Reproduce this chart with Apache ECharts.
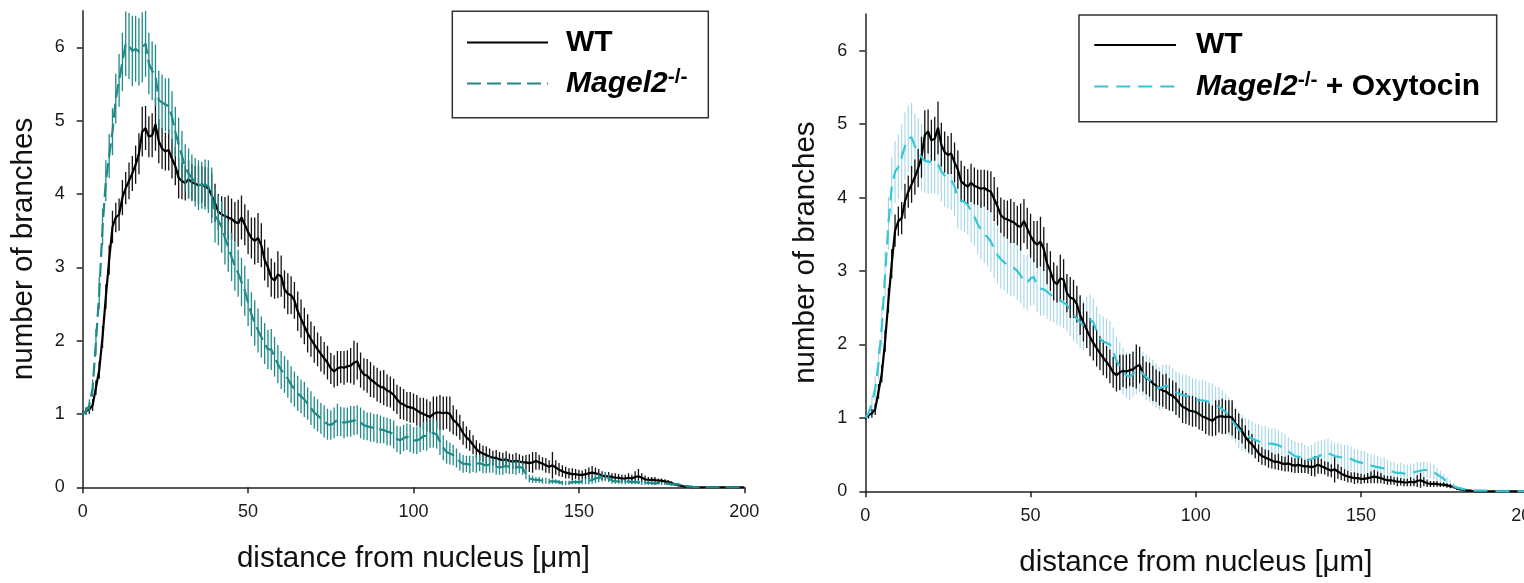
<!DOCTYPE html>
<html>
<head>
<meta charset="utf-8">
<script src="https://cdn.jsdelivr.net/npm/echarts@6/dist/echarts.min.js"></script>
<style>
html,body{margin:0;padding:0;background:#fff;}
#chart{width:1524px;height:583px;}
</style>
</head>
<body>
<div id="chart"></div>
<script>
// distance from nucleus (µm), 1 µm sampling grid
const distance = [];
for (let i = 0; i <= 200; i++) distance.push(i);

const xTicks = [0, 50, 100, 150, 200];
const yTicks = [0, 1, 2, 3, 4, 5, 6];

// WT mean number of branches
const wtMean = [
1.00,1.04,1.06,1.12,1.36,1.60,2.05,2.60,3.10,3.55,
3.68,3.72,3.95,4.08,4.18,4.28,4.40,4.55,4.85,4.90,
4.78,4.80,4.95,4.72,4.62,4.58,4.60,4.48,4.38,4.22,
4.18,4.15,4.20,4.16,4.14,4.12,4.13,4.10,4.08,3.98,
3.88,3.76,3.72,3.70,3.68,3.66,3.62,3.60,3.68,3.58,
3.48,3.40,3.36,3.40,3.30,3.10,3.00,2.86,2.82,2.90,
2.88,2.70,2.64,2.62,2.55,2.40,2.30,2.20,2.10,2.02,
1.95,1.88,1.82,1.76,1.70,1.62,1.58,1.62,1.64,1.63,
1.65,1.66,1.70,1.72,1.60,1.54,1.52,1.47,1.44,1.40,
1.37,1.36,1.32,1.30,1.26,1.20,1.15,1.13,1.10,1.09,
1.08,1.05,1.02,1.00,0.98,0.96,1.00,1.02,1.02,1.01,
1.02,1.00,0.92,0.88,0.82,0.74,0.68,0.64,0.58,0.52,
0.48,0.46,0.44,0.42,0.40,0.40,0.38,0.37,0.38,0.36,
0.35,0.36,0.35,0.34,0.34,0.33,0.34,0.36,0.34,0.32,
0.30,0.28,0.30,0.27,0.24,0.22,0.20,0.19,0.18,0.18,
0.17,0.17,0.18,0.19,0.20,0.19,0.18,0.16,0.15,0.15,
0.14,0.13,0.13,0.12,0.12,0.13,0.12,0.14,0.15,0.13,
0.11,0.10,0.10,0.10,0.09,0.09,0.08,0.07,0.06,0.04,
0.03,0.02,0.01,0.01,0,0,0,0,0,0,
0,0,0,0,0,0,0,0,0,0,
0];
const wtErr = [
0.03,0.05,0.06,0.08,0.10,0.12,0.15,0.17,0.20,0.22,
0.20,0.22,0.24,0.22,0.25,0.24,0.26,0.28,0.34,0.30,
0.28,0.30,0.36,0.30,0.28,0.26,0.28,0.27,0.26,0.28,
0.25,0.24,0.26,0.25,0.24,0.26,0.25,0.27,0.28,0.30,
0.26,0.24,0.25,0.26,0.30,0.28,0.27,0.32,0.30,0.28,
0.30,0.28,0.32,0.34,0.30,0.28,0.27,0.26,0.25,0.32,
0.28,0.26,0.28,0.26,0.25,0.27,0.26,0.25,0.26,0.24,
0.25,0.23,0.24,0.22,0.23,0.21,0.22,0.24,0.22,0.23,
0.22,0.24,0.30,0.25,0.24,0.22,0.23,0.24,0.22,0.23,
0.22,0.24,0.22,0.21,0.22,0.20,0.22,0.21,0.20,0.21,
0.20,0.21,0.20,0.22,0.22,0.21,0.24,0.22,0.24,0.23,
0.22,0.24,0.20,0.18,0.17,0.16,0.15,0.14,0.13,0.12,
0.12,0.11,0.12,0.11,0.10,0.11,0.10,0.10,0.11,0.10,
0.10,0.11,0.10,0.09,0.10,0.12,0.14,0.12,0.10,0.09,
0.10,0.09,0.18,0.10,0.09,0.08,0.08,0.07,0.08,0.07,
0.07,0.06,0.07,0.08,0.09,0.08,0.07,0.06,0.06,0.06,
0.05,0.06,0.05,0.05,0.05,0.06,0.05,0.08,0.10,0.06,
0.05,0.04,0.04,0.04,0.03,0.03,0.03,0.03,0.02,0.02,
0.02,0.01,0.01,0.01,0,0,0,0,0,0,
0,0,0,0,0,0,0,0,0,0,
0];

// Magel2-/- mean number of branches
const magelMean = [
1.00,1.04,1.12,1.35,1.98,2.65,3.55,4.18,4.52,4.85,
5.30,5.55,5.80,6.05,6.02,5.95,5.98,5.94,6.00,6.05,
5.78,5.68,5.62,5.28,5.25,5.22,5.20,5.05,4.85,4.68,
4.52,4.36,4.28,4.22,4.16,4.12,4.12,4.13,4.10,3.98,
3.70,3.64,3.55,3.40,3.28,3.14,3.02,2.92,2.80,2.68,
2.52,2.36,2.24,2.14,2.05,1.96,1.88,1.88,1.78,1.68,
1.60,1.54,1.48,1.40,1.34,1.28,1.24,1.20,1.14,1.08,
1.02,0.98,0.94,0.90,0.86,0.85,0.88,0.92,0.90,0.88,
0.89,0.90,0.91,0.92,0.88,0.85,0.83,0.82,0.81,0.80,
0.79,0.78,0.76,0.75,0.72,0.66,0.64,0.67,0.69,0.67,
0.64,0.64,0.66,0.70,0.70,0.73,0.74,0.72,0.62,0.54,
0.48,0.46,0.44,0.40,0.35,0.32,0.32,0.31,0.32,0.32,
0.33,0.31,0.30,0.31,0.30,0.28,0.27,0.28,0.29,0.28,
0.28,0.27,0.28,0.26,0.18,0.12,0.11,0.10,0.10,0.09,
0.09,0.08,0.08,0.08,0.07,0.06,0.06,0.06,0.07,0.07,
0.07,0.08,0.08,0.09,0.10,0.12,0.13,0.14,0.15,0.12,
0.09,0.08,0.08,0.07,0.07,0.08,0.07,0.07,0.07,0.06,
0.06,0.06,0.06,0.05,0.06,0.05,0.05,0.05,0.04,0.04,
0.04,0.03,0.02,0.01,0.01,0,0,0,0,0,
0,0,0,0,0,0,0,0,0,0,
0];
const magelErr = [
0.02,0.05,0.08,0.12,0.18,0.22,0.25,0.28,0.30,0.32,
0.34,0.36,0.40,0.44,0.45,0.48,0.45,0.46,0.48,0.45,
0.42,0.40,0.42,0.40,0.38,0.36,0.38,0.35,0.34,0.36,
0.34,0.32,0.34,0.32,0.33,0.34,0.32,0.34,0.36,0.38,
0.36,0.34,0.35,0.36,0.34,0.33,0.34,0.32,0.33,0.34,
0.32,0.30,0.31,0.30,0.28,0.28,0.27,0.28,0.27,0.26,
0.26,0.25,0.26,0.25,0.24,0.24,0.23,0.24,0.22,0.23,
0.22,0.22,0.21,0.22,0.21,0.20,0.21,0.22,0.20,0.21,
0.20,0.21,0.20,0.20,0.21,0.20,0.19,0.20,0.19,0.20,
0.19,0.18,0.19,0.18,0.19,0.18,0.19,0.18,0.18,0.19,
0.18,0.19,0.18,0.19,0.20,0.19,0.20,0.19,0.18,0.17,
0.16,0.15,0.14,0.13,0.12,0.12,0.11,0.12,0.11,0.12,
0.11,0.12,0.11,0.11,0.10,0.11,0.10,0.11,0.10,0.10,
0.10,0.10,0.09,0.09,0.07,0.05,0.05,0.04,0.04,0.04,
0.04,0.04,0.03,0.03,0.03,0.03,0.03,0.03,0.03,0.03,
0.03,0.04,0.04,0.05,0.05,0.06,0.06,0.06,0.06,0.05,
0.04,0.03,0.03,0.03,0.03,0.03,0.03,0.03,0.03,0.03,
0.03,0.03,0.03,0.02,0.02,0.02,0.02,0.02,0.02,0.02,
0.02,0.01,0.01,0.01,0.01,0,0,0,0,0,
0,0,0,0,0,0,0,0,0,0,
0];

// Magel2-/- + Oxytocin mean number of branches
const oxyMean = [
1.00,1.06,1.20,1.40,1.75,2.25,2.95,3.65,4.15,4.35,
4.42,4.55,4.70,4.80,4.82,4.70,4.62,4.55,4.50,4.49,
4.48,4.49,4.45,4.36,4.30,4.25,4.24,4.15,4.00,3.96,
3.94,3.90,3.82,3.74,3.64,3.56,3.50,3.46,3.40,3.30,
3.22,3.16,3.12,3.08,3.06,3.04,3.00,2.94,2.86,2.84,
2.90,2.92,2.80,2.76,2.75,2.72,2.68,2.65,2.62,2.60,
2.57,2.54,2.46,2.40,2.35,2.30,2.26,2.30,2.34,2.30,
2.18,2.08,2.04,2.02,2.00,1.90,1.78,1.70,1.64,1.58,
1.56,1.60,1.64,1.66,1.60,1.55,1.52,1.48,1.44,1.40,
1.42,1.44,1.42,1.38,1.35,1.33,1.31,1.30,1.29,1.27,
1.25,1.24,1.24,1.23,1.22,1.20,1.17,1.15,1.12,1.08,
1.02,0.96,0.90,0.84,0.80,0.77,0.74,0.72,0.70,0.68,
0.67,0.66,0.65,0.65,0.64,0.63,0.60,0.57,0.54,0.51,
0.48,0.47,0.46,0.44,0.43,0.44,0.46,0.47,0.50,0.52,
0.52,0.50,0.48,0.47,0.46,0.46,0.45,0.44,0.42,0.40,
0.39,0.38,0.36,0.35,0.34,0.33,0.32,0.31,0.29,0.28,
0.26,0.25,0.25,0.24,0.24,0.25,0.26,0.27,0.28,0.29,
0.29,0.28,0.26,0.23,0.20,0.17,0.13,0.10,0.07,0.05,
0.04,0.03,0.02,0.02,0.01,0.01,0.01,0.01,0.01,0,
0,0,0,0,0,0,0,0,0,0,
0];
const oxyErr = [
0.03,0.06,0.10,0.16,0.22,0.28,0.32,0.36,0.40,0.42,
0.44,0.45,0.46,0.45,0.47,0.44,0.46,0.45,0.43,0.44,
0.42,0.43,0.42,0.41,0.42,0.40,0.41,0.40,0.42,0.40,
0.41,0.40,0.42,0.40,0.41,0.40,0.39,0.40,0.41,0.40,
0.39,0.40,0.38,0.39,0.40,0.38,0.39,0.38,0.37,0.38,
0.37,0.38,0.36,0.37,0.36,0.37,0.36,0.35,0.36,0.35,
0.35,0.36,0.34,0.35,0.34,0.35,0.34,0.35,0.34,0.33,
0.34,0.33,0.34,0.33,0.32,0.33,0.32,0.33,0.32,0.31,
0.32,0.31,0.32,0.31,0.30,0.31,0.30,0.31,0.30,0.29,
0.30,0.29,0.30,0.29,0.28,0.29,0.28,0.29,0.28,0.27,
0.28,0.27,0.28,0.27,0.26,0.27,0.26,0.27,0.26,0.25,
0.26,0.25,0.24,0.25,0.24,0.23,0.24,0.23,0.22,0.23,
0.22,0.23,0.22,0.21,0.22,0.21,0.20,0.21,0.20,0.19,
0.20,0.19,0.20,0.19,0.18,0.19,0.20,0.21,0.20,0.19,
0.20,0.19,0.18,0.19,0.18,0.17,0.18,0.17,0.16,0.17,
0.16,0.17,0.16,0.15,0.16,0.15,0.14,0.15,0.14,0.13,
0.14,0.13,0.14,0.13,0.12,0.13,0.12,0.13,0.12,0.12,
0.11,0.10,0.10,0.09,0.08,0.07,0.06,0.05,0.04,0.03,
0.02,0.02,0.01,0.01,0.01,0.01,0.01,0.01,0.01,0,
0,0,0,0,0,0,0,0,0,0,
0];

const seriesNames = ['WT', 'Magel2-/-', 'Magel2-/- + Oxytocin'];
const colors = { wt: '#000000', magel: '#1f8a88', oxy: '#35c6d8', oxyBar: '#a3d6e6' };

function linePoints(mean) { return distance.map((d, i) => [d, mean[i]]); }
function barPoints(mean, err) {
  const out = [];
  distance.forEach((d, i) => { if (err[i] > 0) out.push([d, mean[i] - err[i], mean[i] + err[i]]); });
  return out;
}
function errSeries(idx, mean, err, color, width, z) {
  return {
    type: 'custom', xAxisIndex: idx, yAxisIndex: idx, z: z, clip: true, silent: true,
    encode: { x: 0, y: [1, 2] },
    data: barPoints(mean, err),
    renderItem: function (params, api) {
      const a = api.coord([api.value(0), api.value(1)]);
      const b = api.coord([api.value(0), api.value(2)]);
      return { type: 'line', shape: { x1: a[0], y1: a[1], x2: b[0], y2: b[1] },
               style: { stroke: color, lineWidth: width } };
    }
  };
}
function lineSeries(idx, name, mean, color, type, z) {
  return {
    type: 'line', name: name, xAxisIndex: idx, yAxisIndex: idx, z: z,
    symbol: 'none', showSymbol: false, silent: true, animation: false,
    lineStyle: { color: color, width: 2.2, type: type },
    itemStyle: { color: color },
    data: linePoints(mean)
  };
}

const font = "'Liberation Sans', Arial, sans-serif";
function xAxis(idx) {
  return {
    gridIndex: idx, type: 'value', min: 0, max: 200, interval: 50,
    name: 'distance from nucleus [\u03bcm]', nameLocation: 'middle', nameGap: 57,
    nameTextStyle: { fontFamily: font, fontSize: 29.5, color: '#111' },
    axisLine: { onZero: false, lineStyle: { color: '#222', width: 1.5 } },
    axisTick: { length: 6, lineStyle: { color: '#222', width: 1.5 }, customValues: xTicks },
    axisLabel: { fontFamily: font, fontSize: 18, color: '#1a1a1a', margin: 16, customValues: xTicks },
    splitLine: { show: false }
  };
}
function yAxis(idx) {
  return {
    gridIndex: idx, type: 'value', min: 0, max: 6.5, interval: 1,
    name: 'number of branches', nameLocation: 'middle', nameGap: 44,
    nameTextStyle: { fontFamily: font, fontSize: 29.5, color: '#111' },
    axisLine: { show: true, onZero: false, lineStyle: { color: '#222', width: 1.5 } },
    axisTick: { show: true, length: 6, lineStyle: { color: '#222', width: 1.5 }, customValues: yTicks },
    axisLabel: { fontFamily: font, fontSize: 18, color: '#1a1a1a', margin: 18, customValues: yTicks },
    splitLine: { show: false }
  };
}

const rich = {
  g: { width: 13, fontSize: 10 },
  g2: { width: 15, fontSize: 10 },
  b: { fontFamily: font, fontSize: 30, fontWeight: 'bold', color: '#000', lineHeight: 34 },
  i: { fontFamily: font, fontSize: 30, fontWeight: 'bold', fontStyle: 'italic', color: '#000', lineHeight: 34 },
  s: { fontFamily: font, fontSize: 21, fontWeight: 'bold', color: '#000', verticalAlign: 'top', lineHeight: 20 }
};
function legendFmt(gap) {
  return function (name) {
    if (name === seriesNames[0]) return '{' + gap + '| }{b|WT}';
    if (name === seriesNames[1]) return '{' + gap + '| }{i|Magel2}{s|-/-}';
    return '{' + gap + '| }{i|Magel2}{s|-/-}{b| + Oxytocin}';
  };
}

const chart = echarts.init(document.getElementById('chart'), null, { renderer: 'canvas' });
chart.setOption({
  animation: false,
  backgroundColor: '#fff',
  grid: [
    { left: 82.7, right: 779.7, top: 10.7, bottom: 95.7, outerBoundsMode: 'none', containLabel: false },
    { left: 865.3, right: -2.3, top: 14, bottom: 91.7, outerBoundsMode: 'none', containLabel: false }
  ],
  xAxis: [xAxis(0), xAxis(1)],
  yAxis: [yAxis(0), yAxis(1)],
  graphic: [
    { type: 'rect', shape: { x: 452.3, y: 11.3, width: 256, height: 106.4 },
      style: { fill: '#fff', stroke: '#333', lineWidth: 1.5 }, z: 1 },
    { type: 'rect', shape: { x: 1079, y: 15, width: 417.7, height: 106.7 },
      style: { fill: '#fff', stroke: '#333', lineWidth: 1.5 }, z: 1 }
  ],
  legend: [
    { data: [seriesNames[0], seriesNames[1]], orient: 'vertical', left: 466, top: 27.5,
      padding: 0, itemGap: 9, itemWidth: 81, itemHeight: 14, selectedMode: false, z: 10,
      itemStyle: { opacity: 0 },
      formatter: legendFmt('g'), textStyle: { rich: rich } },
    { data: [seriesNames[0], seriesNames[2]], orient: 'vertical', left: 1093.3, top: 30,
      padding: 0, itemGap: 9.4, itemWidth: 81.7, itemHeight: 14, selectedMode: false, z: 10,
      itemStyle: { opacity: 0 },
      formatter: legendFmt('g2'), textStyle: { rich: rich } }
  ],
  series: [
    errSeries(0, wtMean, wtErr, '#111', 1.3, 2),
    lineSeries(0, seriesNames[0], wtMean, colors.wt, 'solid', 3),
    errSeries(0, magelMean, magelErr, colors.magel, 1.3, 4),
    lineSeries(0, seriesNames[1], magelMean, colors.magel, [14, 6], 5),
    errSeries(1, oxyMean, oxyErr, colors.oxyBar, 1.1, 2),
    errSeries(1, wtMean, wtErr, '#111', 1.3, 3),
    lineSeries(1, seriesNames[0], wtMean, colors.wt, 'solid', 4),
    lineSeries(1, seriesNames[2], oxyMean, colors.oxy, [14, 8], 5)
  ]
});
</script>
</body>
</html>
